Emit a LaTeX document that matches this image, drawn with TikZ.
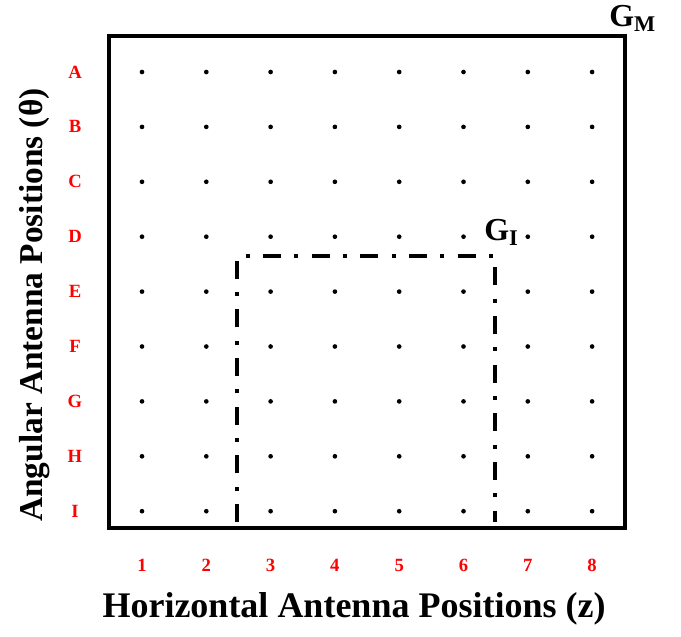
\documentclass[tikz,border=0pt]{standalone}
\usepackage{fontspec}
\setmainfont{Liberation Serif}
\usepackage{tikz}
\usetikzlibrary{positioning, calc}
\definecolor{labelred}{RGB}{255, 0, 0}
\tikzset{
    gridbox/.style={draw, line width=3pt},
    subbox/.style={draw, line width=3pt, dash pattern=on 13.5pt off 10pt on 3pt off 10pt},
    gridpt/.style={circle, fill=black, inner sep=0pt, minimum size=3.5pt},
    rowlabel/.style={font=\fontsize{14}{16}\selectfont\bfseries, text=labelred},
    axislabel/.style={font=\fontsize{27}{31}\selectfont\bfseries},
    gridname/.style={font=\fontsize{24}{28}\selectfont\bfseries, inner sep=0pt},
}
\begin{document}
\begin{tikzpicture}[x=0.75pt, y=-0.75pt]
                \useasboundingbox (0, 0) rectangle (681, 636);
                % outer grid G_M
                \coordinate (m-nw) at (109, 36);
                \coordinate (m-se) at (625, 528);
                \draw[gridbox] (m-nw) rectangle (m-se);
                \node[gridname, anchor=south west] (gm) at (609, 32) {G\textsubscript{M}};
                
                % antenna positions
                \foreach \c in {1,...,8} {
                    \foreach \r/\l in {0/A, 1/B, 2/C, 3/D, 4/E, 5/F, 6/G, 7/H, 8/I} {
                        \node[gridpt] (p-\l\c) at ({142 + 64.3*(\c-1)}, {72 + 54.9*\r}) {};
                    }
                    \node[rowlabel] (col-\c) at ({142 + 64.3*(\c-1)}, 565) {\c};
                }
                \foreach \r/\l in {0/A, 1/B, 2/C, 3/D, 4/E, 5/F, 6/G, 7/H, 8/I} {
                    \node[rowlabel] (row-\l) at (75, {72 + 54.9*\r}) {\l};
                }
                
                % inner grid G_I
                \coordinate (i-sw) at (237, 522);
                \coordinate (i-nw) at (237, 256);
                \coordinate (i-ne) at (495, 256);
                \coordinate (i-se) at (495, 522);
                \draw[subbox] (i-sw) -- (i-nw) -- (i-ne) -- (i-se);
                \node[gridname, anchor=south west] (gi) at (484, 246) {G\textsubscript{I}};
                
                % axes
                \node[axislabel] (xlab) at (354, 609) {Horizontal Antenna Positions (z)};
                \node[axislabel, font=\fontsize{25}{29}\selectfont\bfseries, rotate=90] (ylab) at (35, 305) {Angular Antenna Positions (θ)};
            \end{tikzpicture}
\end{document}
